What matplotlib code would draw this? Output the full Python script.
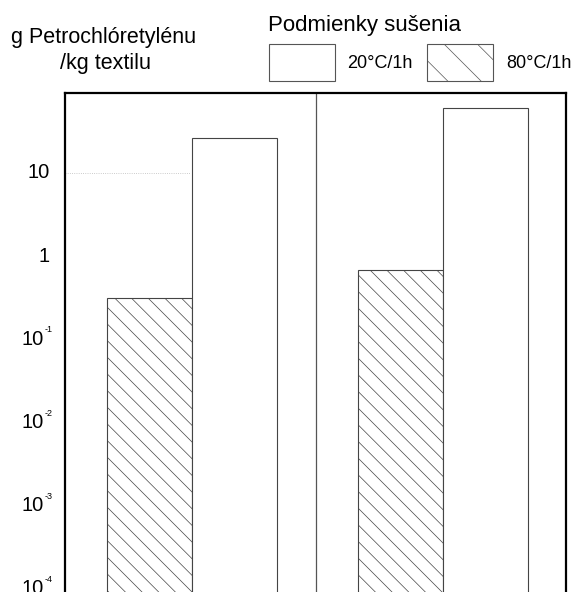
import matplotlib
matplotlib.use("Agg")
import matplotlib.pyplot as plt
from matplotlib.patches import Rectangle
import numpy as np

plt.rcParams['font.family'] = ['Liberation Sans', 'DejaVu Sans']
plt.rcParams['hatch.color'] = '#777777'
plt.rcParams['hatch.linewidth'] = 0.5

# data (g / kg textile)
groups = [0.5, 1.5]
vals_80 = [0.31, 0.68]
vals_20 = [26.0, 60.0]
tick_exps = [-4, -3, -2, -1, 0, 1]

fig = plt.figure(figsize=(5.75, 5.92), dpi=100)
ax = fig.add_axes([65 / 575, -0.037, 501 / 575, 0.843 + 0.037])

w = 0.34
x = np.array(groups) + 0.008
ax.bar(x - w / 2, vals_80, width=w, bottom=1e-6, facecolor='white',
       edgecolor='#444444', linewidth=0.8, hatch='\\\\', zorder=2)
ax.bar(x + w / 2, vals_20, width=w, bottom=1e-6, facecolor='white',
       edgecolor='#444444', linewidth=0.8, zorder=2)

ax.axvline(1.0, color='#555555', lw=0.9, zorder=1)
ax.axhline(10, xmax=0.25, color='#bbbbbb', lw=0.6, ls=':', zorder=1)

ax.set_yscale('log')
ax.set_ylim(10 ** -4.3, 10 ** 1.96)
ax.set_xlim(0, 2)
ax.set_xticks([])
ax.set_yticks([])
ax.minorticks_off()
for sp in ax.spines.values():
    sp.set_linewidth(1.6)

# y tick labels with small raised exponents, like the original
trans = ax.get_yaxis_transform()
for e in tick_exps:
    y = 10.0 ** e
    if e == 1:
        ax.text(-0.031, y, '10', transform=trans, ha='right', va='center',
                fontsize=14.5, clip_on=False)
    elif e == 0:
        ax.text(-0.031, y, '1', transform=trans, ha='right', va='center',
                fontsize=14.5, clip_on=False)
    else:
        ax.text(-0.043, y, '10', transform=trans, ha='right', va='center',
                fontsize=14.5, clip_on=False)
        ax.text(-0.041, y * 10 ** 0.06, str(e), transform=trans, ha='left',
                va='bottom', fontsize=6.5, clip_on=False)

fig.text(11 / 575, 1 - 37 / 592, 'g Petrochlóretylénu', fontsize=15.5, va='center')
fig.text(105 / 575, 1 - 63 / 592, '/kg textilu', fontsize=15.5, va='center', ha='center')
fig.text(268 / 575, 1 - 25 / 592, 'Podmienky sušenia', fontsize=16, va='center')

# legend boxes
fig.patches.append(Rectangle((269 / 575, 1 - 81 / 592), 66 / 575, 37 / 592,
                             transform=fig.transFigure, facecolor='white',
                             edgecolor='#555555', lw=0.8))
fig.patches.append(Rectangle((427 / 575, 1 - 81 / 592), 66 / 575, 37 / 592,
                             transform=fig.transFigure, facecolor='white',
                             edgecolor='#555555', lw=0.8, hatch='\\'))
fig.text(347 / 575, 1 - 64 / 592, '20°C/1h', fontsize=13, va='center')
fig.text(506 / 575, 1 - 64 / 592, '80°C/1h', fontsize=13, va='center')

fig.savefig('out.png', dpi=100)
